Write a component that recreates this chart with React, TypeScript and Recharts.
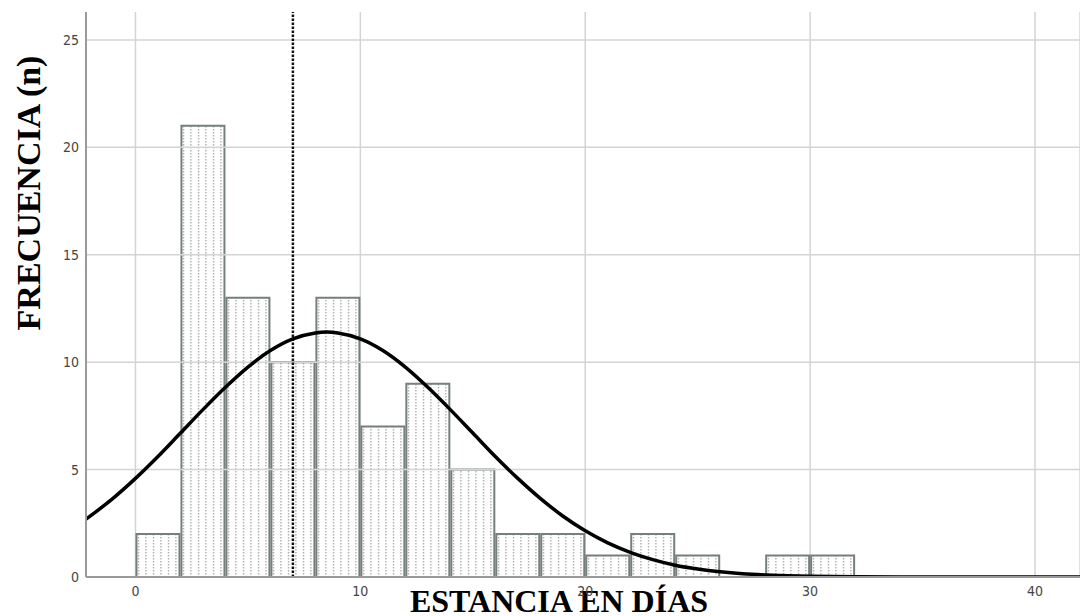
import { Bar, CartesianGrid, ComposedChart, Line, ReferenceLine, XAxis, YAxis } from "recharts";

// histogram bins (2 days wide), centre of bin and count
const BIN_CENTERS = [1, 3, 5, 7, 9, 11, 13, 15, 17, 19, 21, 23, 25, 27, 29, 31];
const BIN_COUNTS = [2, 21, 13, 10, 13, 7, 9, 5, 2, 2, 1, 2, 1, 0, 1, 1];

// fitted normal curve
const CURVE_X = [-2.2, -1, 0, 1, 2, 3, 4, 5, 6, 7, 8, 8.5, 9, 10, 11, 12, 13, 14, 15, 16, 17, 18, 19, 20, 21, 22, 23, 24, 25, 26, 27, 28, 29, 30, 32, 34, 37, 42];
const CURVE_Y = [2.69, 3.66, 4.59, 5.61, 6.7, 7.79, 8.83, 9.77, 10.54, 11.08, 11.36, 11.4, 11.36, 11.08, 10.54, 9.77, 8.83, 7.79, 6.7, 5.61, 4.59, 3.66, 2.84, 2.15, 1.59, 1.15, 0.81, 0.55, 0.37, 0.24, 0.15, 0.095, 0.057, 0.034, 0.011, 0.003, 0, 0];

const MEDIAN = 7;
const X_TICKS = [0, 10, 20, 30, 40];
const Y_TICKS = [0, 5, 10, 15, 20, 25];
const X_DOMAIN: [number, number] = [-2.2, 42];
const Y_DOMAIN: [number, number] = [0, 26.3];

const W = 1080;
const H = 616;
const PLOT_LEFT = 86;
const PLOT_WIDTH = W - PLOT_LEFT;
const PX_PER_DAY = PLOT_WIDTH / (X_DOMAIN[1] - X_DOMAIN[0]);
const BAR_SIZE = Math.floor(2 * PX_PER_DAY) - 1;

const GRID = "#d4d4d4";
const AXIS = "#9a9a9a";
const TICK = "#444";
const BAR_STROKE = "#76807b";

const bins = BIN_CENTERS.map((x, i) => ({ x, n: BIN_COUNTS[i] }));
const curve = CURVE_X.map((x, i) => ({ x, y: CURVE_Y[i] }));

const tickStyle = {
  fill: TICK,
  fontSize: 14,
  fontFamily: "'DejaVu Sans Condensed', 'Liberation Sans Narrow', 'DejaVu Sans', sans-serif",
};

function XTitle({ viewBox }: any) {
  const cx = viewBox.x + viewBox.width / 2 - 24;
  return (
    <text x={cx} y={612} textAnchor="middle" fontFamily="'Liberation Serif', 'Times New Roman', serif" fontWeight="bold" fontSize={32} fill="#000">
      ESTANCIA EN DÍAS
    </text>
  );
}

function YTitle() {
  return (
    <text x={40} y={193} transform="rotate(-90, 40, 193)" textAnchor="middle" fontFamily="'Liberation Serif', 'Times New Roman', serif" fontWeight="bold" fontSize={34} fill="#000">
      FRECUENCIA (n)
    </text>
  );
}

export default function App() {
  return (
    <div style={{ position: "absolute", left: 0, top: 0, background: "#fff" }}>
      <ComposedChart width={W} height={H} data={bins} margin={{ top: 12, right: 0, left: 46, bottom: 14 }}>
        <defs>
          <pattern id="dots" patternUnits="userSpaceOnUse" width="7.5" height="3">
            <rect x="3" y="0" width="1" height="1.5" fill="#8a8a8a" />
          </pattern>
        </defs>
        <CartesianGrid stroke={GRID} strokeWidth={1.5} horizontal={false} />
        {Y_TICKS.slice(1).map((t) => (
          <ReferenceLine key={t} y={t} stroke={GRID} strokeWidth={1.5} />
        ))}
        <XAxis
          dataKey="x"
          type="number"
          domain={X_DOMAIN}
          ticks={X_TICKS}
          allowDataOverflow
          height={25}
          tickLine={false}
          tickSize={0}
          tickMargin={9}
          axisLine={{ stroke: AXIS, strokeWidth: 2 }}
          tick={tickStyle}
          label={<XTitle />}
        />
        <XAxis xAxisId="curve" dataKey="x" type="number" domain={X_DOMAIN} allowDataOverflow hide />
        <YAxis
          type="number"
          domain={Y_DOMAIN}
          ticks={Y_TICKS}
          allowDataOverflow
          width={40}
          tickLine={false}
          tickSize={0}
          tickMargin={7}
          axisLine={{ stroke: AXIS, strokeWidth: 2 }}
          tick={tickStyle}
          label={<YTitle />}
        />
        <Bar dataKey="n" barSize={BAR_SIZE} fill="url(#dots)" stroke={BAR_STROKE} strokeWidth={2} isAnimationActive={false} />
        <ReferenceLine x={MEDIAN} stroke="#111" strokeWidth={2.5} strokeDasharray="2.5 1.5" />
        <Line
          xAxisId="curve"
          data={curve}
          dataKey="y"
          type="monotone"
          stroke="#000"
          strokeWidth={3.5}
          dot={false}
          activeDot={false}
          isAnimationActive={false}
        />
      </ComposedChart>
    </div>
  );
}
